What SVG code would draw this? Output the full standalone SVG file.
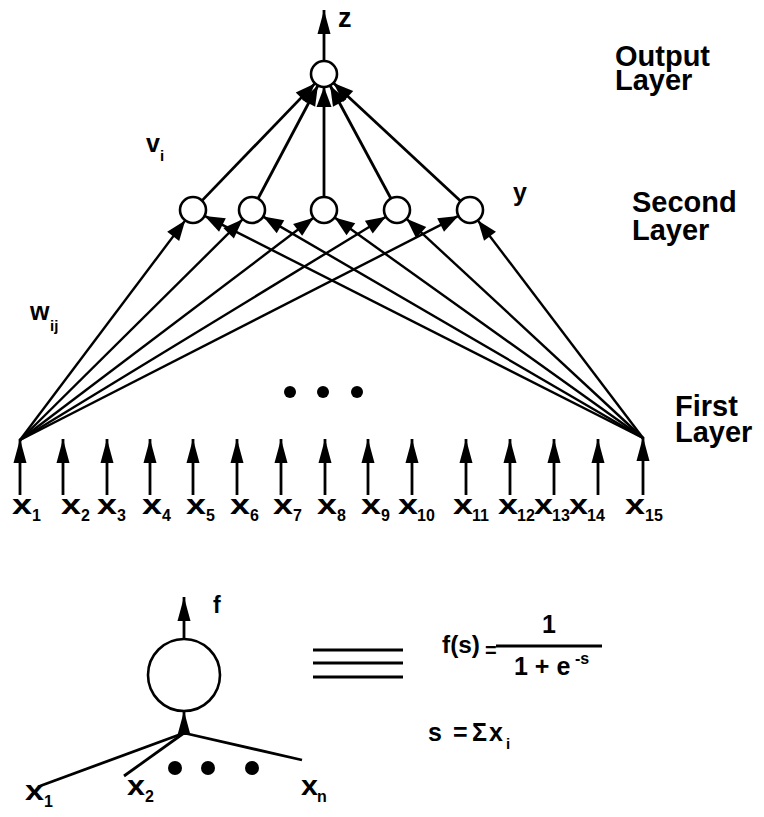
<svg xmlns="http://www.w3.org/2000/svg" width="764" height="817" viewBox="0 0 764 817">
<style>
text{font-family:"Liberation Sans",Arial,sans-serif;font-weight:bold;fill:#000}
.lbl{font-size:29px}
.xg{font-size:27px}
.sb{font-size:16px}
.nd{fill:#fff;stroke:#000;stroke-width:2.6}
.ln{stroke:#000;stroke-width:2.8;fill:none}
.fan{stroke:#000;stroke-width:2.4;fill:none}
.ar{marker-end:url(#ah)}
.ai{marker-end:url(#ahi)}
.dot{fill:#000}
</style>
<defs>
<marker id="ah" markerUnits="userSpaceOnUse" markerWidth="22" markerHeight="16" refX="20" refY="8" orient="auto" overflow="visible">
<path d="M0,0.5 L20,8 L0,15.5 z" fill="#000"/>
</marker>
<marker id="ahi" markerUnits="userSpaceOnUse" markerWidth="26" markerHeight="14" refX="24" refY="7" orient="auto" overflow="visible">
<path d="M0,0.5 L24,7 L0,13.5 z" fill="#000"/>
</marker>
</defs>

<g id="connectors">
<line class="ln ai" x1="324" y1="61" x2="324" y2="10"/>
<line class="ln ar" x1="202" y1="200.6" x2="315" y2="83.4"/>
<line class="ln ar" x1="258.1" y1="198.5" x2="317.9" y2="85.5"/>
<line class="ln ar" x1="324" y1="197" x2="324" y2="87"/>
<line class="ln ar" x1="390.9" y1="198.5" x2="330.1" y2="85.5"/>
<line class="ln ar" x1="460.5" y1="201.1" x2="333.5" y2="82.9"/>
<line class="fan ar" x1="20" y1="440" x2="185.2" y2="220.4"/>
<line class="fan ar" x1="20" y1="440" x2="242.8" y2="219.2"/>
<line class="fan ar" x1="20" y1="440" x2="313.6" y2="217.8"/>
<line class="fan ar" x1="20" y1="440" x2="385.9" y2="216.8"/>
<line class="fan ar" x1="20" y1="440" x2="458.4" y2="215.9"/>
<line class="fan ar" x1="643" y1="438" x2="204.6" y2="215.9"/>
<line class="fan ar" x1="643" y1="438" x2="263.2" y2="216.6"/>
<line class="fan ar" x1="643" y1="438" x2="334.6" y2="217.6"/>
<line class="fan ar" x1="643" y1="438" x2="406.5" y2="218.8"/>
<line class="fan ar" x1="643" y1="438" x2="477.9" y2="220.4"/>
<line class="ln ai" x1="20" y1="495" x2="20" y2="439"/>
<line class="ln ai" x1="63" y1="495" x2="63" y2="439"/>
<line class="ln ai" x1="107" y1="495" x2="107" y2="439"/>
<line class="ln ai" x1="150" y1="495" x2="150" y2="439"/>
<line class="ln ai" x1="193" y1="495" x2="193" y2="439"/>
<line class="ln ai" x1="237" y1="495" x2="237" y2="439"/>
<line class="ln ai" x1="281" y1="495" x2="281" y2="439"/>
<line class="ln ai" x1="325" y1="495" x2="325" y2="439"/>
<line class="ln ai" x1="368" y1="495" x2="368" y2="439"/>
<line class="ln ai" x1="412" y1="495" x2="412" y2="439"/>
<line class="ln ai" x1="466" y1="495" x2="466" y2="439"/>
<line class="ln ai" x1="510" y1="495" x2="510" y2="439"/>
<line class="ln ai" x1="554" y1="495" x2="554" y2="439"/>
<line class="ln ai" x1="598" y1="495" x2="598" y2="439"/>
<line class="ln ai" x1="643" y1="495" x2="643" y2="437"/>
<line class="ln ai" x1="184" y1="639" x2="184" y2="597"/>
<line class="ln ai" x1="184" y1="733" x2="184" y2="711"/>
<line class="ln" x1="184" y1="733" x2="40" y2="786"/>
<line class="ln" x1="184" y1="733" x2="124" y2="776"/>
<line class="ln" x1="184" y1="733" x2="302" y2="760"/>
</g>

<g id="out"><circle class="nd" cx="324" cy="74" r="13"/></g>
<g id="h1"><circle class="nd" cx="193" cy="210" r="13"/></g>
<g id="h2"><circle class="nd" cx="252" cy="210" r="13"/></g>
<g id="h3"><circle class="nd" cx="324" cy="210" r="13"/></g>
<g id="h4"><circle class="nd" cx="397" cy="210" r="13"/></g>
<g id="h5"><circle class="nd" cx="470" cy="210" r="13"/></g>

<g id="labels">
<text x="338" y="27" style="font-size:27px">z</text>
<text x="146" y="152" style="font-size:25px">v</text><text x="160" y="161" style="font-size:15px">i</text>
<text x="513" y="201" style="font-size:25px">y</text>
<text x="30" y="320" style="font-size:25px">w</text><text x="50" y="331" style="font-size:15px">ij</text>
<text class="lbl" x="615" y="66">Output<tspan x="615" y="90">Layer</tspan></text>
<text class="lbl" x="632" y="212">Second<tspan x="632" y="240">Layer</tspan></text>
<text class="lbl" x="675" y="416">First<tspan x="675" y="442">Layer</tspan></text>
</g>

<g id="dots">
<circle class="dot" cx="290" cy="392" r="6"/>
<circle class="dot" cx="323" cy="392" r="6"/>
<circle class="dot" cx="357" cy="392" r="6"/>
</g>

<g id="inputs">
<g id="in1"><text class="xg" x="12" y="514" textLength="20" lengthAdjust="spacingAndGlyphs">x</text><text class="sb" x="32" y="521">1</text></g>
<g id="in2"><text class="xg" x="61" y="514" textLength="20" lengthAdjust="spacingAndGlyphs">x</text><text class="sb" x="81" y="521">2</text></g>
<g id="in3"><text class="xg" x="97" y="514" textLength="20" lengthAdjust="spacingAndGlyphs">x</text><text class="sb" x="117" y="521">3</text></g>
<g id="in4"><text class="xg" x="142" y="514" textLength="20" lengthAdjust="spacingAndGlyphs">x</text><text class="sb" x="162" y="521">4</text></g>
<g id="in5"><text class="xg" x="186" y="514" textLength="20" lengthAdjust="spacingAndGlyphs">x</text><text class="sb" x="206" y="521">5</text></g>
<g id="in6"><text class="xg" x="230" y="514" textLength="20" lengthAdjust="spacingAndGlyphs">x</text><text class="sb" x="250" y="521">6</text></g>
<g id="in7"><text class="xg" x="273" y="514" textLength="20" lengthAdjust="spacingAndGlyphs">x</text><text class="sb" x="293" y="521">7</text></g>
<g id="in8"><text class="xg" x="317" y="514" textLength="20" lengthAdjust="spacingAndGlyphs">x</text><text class="sb" x="337" y="521">8</text></g>
<g id="in9"><text class="xg" x="361" y="514" textLength="20" lengthAdjust="spacingAndGlyphs">x</text><text class="sb" x="381" y="521">9</text></g>
<g id="in10"><text class="xg" x="398" y="514" textLength="20" lengthAdjust="spacingAndGlyphs">x</text><text class="sb" x="417" y="521">10</text></g>
<g id="in11"><text class="xg" x="453" y="514" textLength="20" lengthAdjust="spacingAndGlyphs">x</text><text class="sb" x="472" y="521">11</text></g>
<g id="in12"><text class="xg" x="498" y="514" textLength="20" lengthAdjust="spacingAndGlyphs">x</text><text class="sb" x="517" y="521">12</text></g>
<g id="in13"><text class="xg" x="534" y="514" textLength="19" lengthAdjust="spacingAndGlyphs">x</text><text class="sb" x="552" y="521">13</text></g>
<g id="in14"><text class="xg" x="569" y="514" textLength="19" lengthAdjust="spacingAndGlyphs">x</text><text class="sb" x="587" y="521">14</text></g>
<g id="in15"><text class="xg" x="625" y="514" textLength="20" lengthAdjust="spacingAndGlyphs">x</text><text class="sb" x="645" y="521">15</text></g>
</g>

<g id="neuron">
<circle class="nd" cx="184" cy="675" r="36"/>
<text x="213" y="613" style="font-size:23px">f</text>
<circle class="dot" cx="175" cy="768" r="7"/>
<circle class="dot" cx="208" cy="768" r="7"/>
<circle class="dot" cx="252" cy="768" r="7"/>
<text class="xg" x="25" y="800" textLength="19" lengthAdjust="spacingAndGlyphs">x</text><text class="sb" x="44" y="807">1</text>
<text class="xg" x="127" y="795" textLength="18" lengthAdjust="spacingAndGlyphs">x</text><text class="sb" x="145" y="802">2</text>
<text class="xg" x="301" y="795" textLength="17" lengthAdjust="spacingAndGlyphs">x</text><text class="sb" x="317" y="802">n</text>
</g>

<g id="equiv">
<line class="ln" x1="313" y1="650" x2="403" y2="650"/>
<line class="ln" x1="313" y1="663" x2="403" y2="663"/>
<line class="ln" x1="313" y1="677" x2="403" y2="677"/>
</g>

<g id="formula">
<text x="442" y="653" style="font-size:23px" textLength="38" lengthAdjust="spacingAndGlyphs">f(s)</text>
<text x="485" y="657" style="font-size:20px">=</text>
<line class="ln" x1="496" y1="646" x2="602" y2="646"/>
<text x="542" y="633" style="font-size:25px">1</text>
<text x="514" y="675" style="font-size:25px">1 + e</text>
<text x="575" y="664" style="font-size:16px">-s</text>
<text x="428" y="741" style="font-size:25px">s</text>
<text x="453" y="741" style="font-size:25px">=</text>
<text x="472" y="741" style="font-size:25px">Σ</text>
<text x="489" y="741" style="font-size:25px">x</text>
<text x="506" y="749" style="font-size:15px">i</text>
</g>
</svg>
